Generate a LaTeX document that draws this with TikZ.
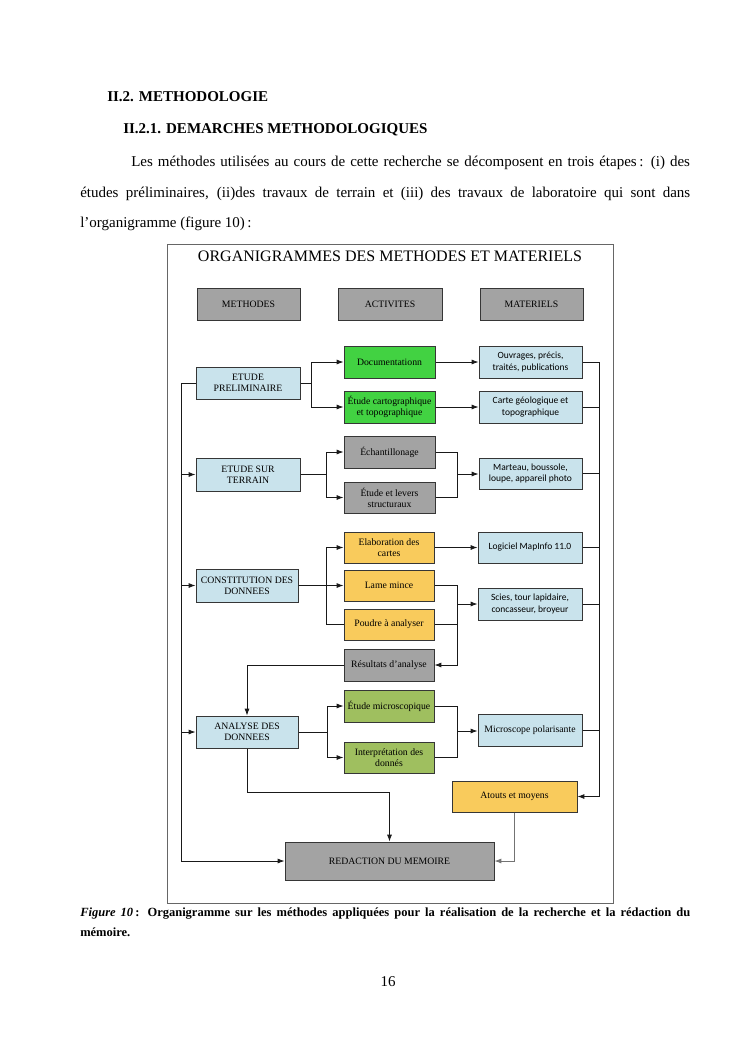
\documentclass[tikz,border=0pt]{standalone}
\usepackage{fontspec}
\setmainfont{Liberation Serif}
\newfontfamily\calib{Carlito}
\usetikzlibrary{arrows.meta,calc}
\definecolor{bluebx}{HTML}{C9E3EC}
\definecolor{greenbx}{HTML}{42D242}
\definecolor{graybx}{HTML}{A3A3A3}
\definecolor{orangebx}{HTML}{F9CB5C}
\definecolor{olivebx}{HTML}{9FBF5F}
\definecolor{boxline}{HTML}{363636}
\newcommand\bx[7]{\node[#6, minimum width={(#4-#2)*0.8pt}, minimum height={(#5-#3)*0.8pt}] (#1) at ({(#2+#4)/2},{(#3+#5)/2}) {#7};}
\begin{document}
\begin{tikzpicture}[x=0.8pt,y=-0.8pt,
  box/.style={draw=boxline, line width=0.8pt, inner sep=1pt, align=center, font=\fontsize{7.8}{9}\selectfont},
  bluebox/.style={box, fill=bluebx},
  greenbox/.style={box, fill=greenbx},
  graybox/.style={box, fill=graybx},
  orangebox/.style={box, fill=orangebx},
  olivebox/.style={box, fill=olivebx},
  matbox/.style={box, fill=bluebx, font=\calib\fontsize{7.6}{9}\selectfont},
  conn/.style={line width=0.65pt, draw=black!90},
  arr/.style={conn, -{Latex[length=5.5pt,width=4pt]}},
  txt/.style={inner sep=0pt, anchor=west}]
\fill[white] (0,0) rectangle (745,1053);
\useasboundingbox (0,0) rectangle (745,1053);

% page text
\node[txt, font=\bfseries\fontsize{12}{14}\selectfont] (h1) at (107,97) {II.2. METHODOLOGIE};
\node[txt, font=\bfseries\fontsize{12}{14}\selectfont] (h2) at (123,130) {II.2.1. DEMARCHES METHODOLOGIQUES};
\node[txt, font=\fontsize{12}{14}\selectfont] (p1) at (131,163) {\hbox to 447pt{Les méthodes utilisées au cours de cette recherche se décomposent en trois étapes\,: (i) des}};
\node[txt, font=\fontsize{12}{14}\selectfont] (p2) at (80,194) {\hbox to 488pt{études préliminaires, (ii)des travaux de terrain et (iii) des travaux de laboratoire qui sont dans}};
\node[txt, font=\fontsize{12}{14}\selectfont] (p3) at (80,224) {l'organigramme (figure 10)\,:};

% frame
\draw[draw=black!60, line width=0.8pt] (167,244) rectangle (613,903);
\node[inner sep=0pt, font=\fontsize{12.8}{14}\selectfont] (title) at (390,256) {ORGANIGRAMMES DES METHODES ET MATERIELS};

% header boxes
\bx{hm}{197}{288}{300}{320}{graybox}{METHODES}
\bx{ha}{338}{288}{442}{320}{graybox}{ACTIVITES}
\bx{hmat}{480}{288}{583}{320}{graybox}{MATERIELS}

% methodes
\bx{ep}{196}{367}{300}{399}{bluebox}{ETUDE\\PRELIMINAIRE}
\bx{est}{196}{458}{300}{491}{bluebox}{ETUDE SUR\\TERRAIN}
\bx{cons}{196}{569}{298}{602}{bluebox}{CONSTITUTION DES\\DONNEES}
\bx{ana}{196}{716}{298}{748}{bluebox}{ANALYSE DES\\DONNEES}
\bx{red}{285}{842}{494}{880}{graybox}{REDACTION DU MEMOIRE}

% activites
\bx{doc}{344}{346}{435}{378}{greenbox}{Documentationn}
\bx{carto}{344}{391}{435}{423}{greenbox}{Étude cartographique\\et topographique}
\bx{ech}{344}{436}{435}{468}{graybox}{Échantillonage}
\bx{lev}{344}{482}{435}{513}{graybox}{Étude et levers\\structuraux}
\bx{elab}{344}{532}{434}{563}{orangebox}{Elaboration des\\cartes}
\bx{lame}{344}{570}{434}{601}{orangebox}{Lame mince}
\bx{poudre}{344}{609}{434}{640}{orangebox}{Poudre à analyser}
\bx{res}{344}{649}{434}{681}{graybox}{Résultats d'analyse}
\bx{micro}{344}{690}{434}{722}{olivebox}{Étude microscopique}
\bx{interp}{344}{742}{434}{773}{olivebox}{Interprétation des\\donnés}

% materiels
\bx{ouv}{479}{346}{582}{378}{matbox}{Ouvrages, précis,\\traités, publications}
\bx{cgeo}{479}{391}{582}{423}{matbox}{Carte géologique et\\topographique}
\bx{mar}{479}{458}{582}{489}{matbox}{Marteau, boussole,\\loupe, appareil photo}
\bx{logi}{478}{532}{582}{563}{matbox}{Logiciel MapInfo 11.0}
\bx{scies}{478}{588}{582}{620}{matbox}{Scies, tour lapidaire,\\concasseur, broyeur}
\bx{mpol}{478}{714}{582}{746}{bluebox}{Microscope polarisante}
\bx{atouts}{452}{781}{577}{812}{orangebox}{Atouts et moyens}

% bus coordinates
\coordinate (xL) at (181,0);
\coordinate (xR) at (599,0);

% left bus
\draw[arr] (ep.west) -- (ep.west -| xL) |- (red.west);
\draw[arr] (xL |- est.west) -- (est.west);
\draw[arr] (xL |- cons.west) -- (cons.west);
\draw[arr] (xL |- ana.west) -- (ana.west);

% etude preliminaire
\draw[arr] (ep.east) -- ++(11,0) |- (doc.west);
\draw[arr] (ep.east) -- ++(11,0) |- (carto.west);
\draw[arr] (doc.east) -- (doc.east -| ouv.west);
\draw[arr] (carto.east) -- (carto.east -| cgeo.west);

% etude sur terrain
\draw[arr] (est.east) -- ++(26,0) |- (ech.west);
\draw[arr] (est.east) -- ++(26,0) |- (lev.west);
\draw[conn] (ech.east) -- ++(22,0) |- (lev.east);
\coordinate (j2) at (457,474);
\draw[arr] (j2) -- (j2 -| mar.west);

% constitution
\draw[arr] (cons.east) -- (cons.east -| lame.west);
\draw[arr] (cons.east) -- ++(28,0) |- (elab.west);
\draw[conn] (cons.east) -- ++(28,0) |- (poudre.west);
\draw[arr] (elab.east) -- (elab.east -| logi.west);
\draw[conn] (lame.east) -- ++(23,0) |- (poudre.east);
\coordinate (j3) at (457,604);
\draw[arr] (j3) -- (j3 -| scies.west);
\draw[arr] (lame.east) ++(23,0) |- (res.east);
\draw[arr] (res.west) -| (ana.north);

% analyse
\draw[arr] (ana.east) -- ++(29,0) |- (micro.west);
\draw[arr] (ana.east) -- ++(29,0) |- (interp.west);
\draw[conn] (micro.east) -- ++(23,0) |- (interp.east);
\coordinate (j4) at (457,731);
\draw[arr] (j4) -- (j4 -| mpol.west);
\draw[arr] (ana.south) -- ++(0,44) -| (red.north);

% right bus
\draw[conn] (ouv.east) -- (ouv.east -| xR);
\draw[conn] (cgeo.east) -- (cgeo.east -| xR);
\draw[conn] (mar.east) -- (mar.east -| xR);
\draw[conn] (logi.east) -- (logi.east -| xR);
\draw[conn] (scies.east) -- (scies.east -| xR);
\draw[conn] (mpol.east) -- (mpol.east -| xR);
\draw[arr] (xR |- ouv.east) |- (atouts.east);
\draw[arr, draw=black!55] (atouts.south) |- (red.east);

% caption
\node[txt, font=\bfseries\fontsize{10}{12}\selectfont] (cap1) at (80,914) {\hbox to 488pt{\textit{Figure 10}\,: Organigramme sur les méthodes appliquées pour la réalisation de la recherche et la rédaction du}};
\node[txt, font=\bfseries\fontsize{10}{12}\selectfont] (cap2) at (80,932) {mémoire.};
\node[inner sep=0pt, font=\fontsize{12}{14}\selectfont] (pg) at (388,982) {16};
\end{tikzpicture}
\end{document}
